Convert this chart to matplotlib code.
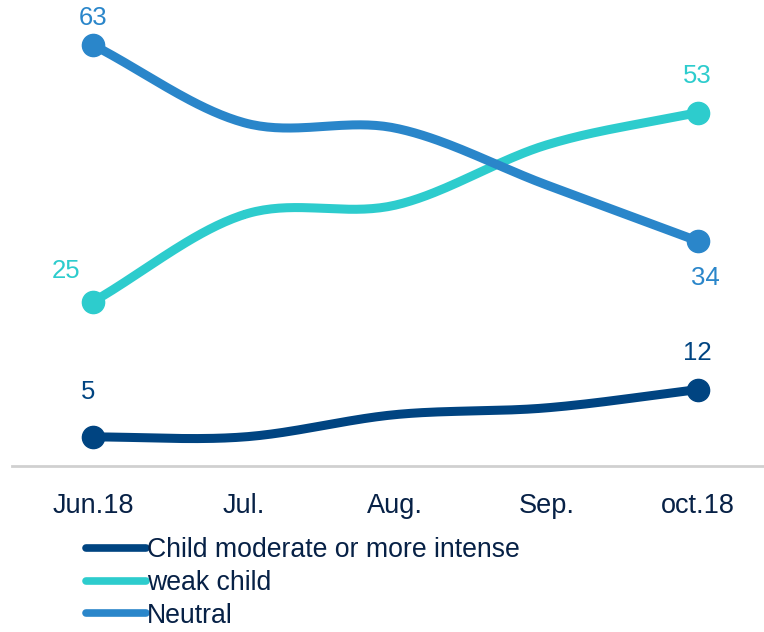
import numpy as np
import matplotlib.pyplot as plt

plt.rcParams['font.family'] = ['Liberation Sans', 'DejaVu Sans']

months = ['Jun.18', 'Jul.', 'Aug.', 'Sep.', 'oct.18']
moderate = [5, 5, 8.3, 9.3, 12]
weak = [25, 37.9, 39.3, 48.2, 53]
neutral = [63, 51.5, 50.7, 42.3, 34]

labels = ['Child moderate or more intense', 'weak child', 'Neutral']
colors = ['#004481', '#2dcccd', '#2a86ca']
text_color = '#072146'


# curva suave tipo Catmull-Rom entre los puntos
def smooth(xs, ys, n=40):
    xs = np.asarray(xs, float)
    ys = np.asarray(ys, float)
    px = np.concatenate([[2 * xs[0] - xs[1]], xs, [2 * xs[-1] - xs[-2]]])
    py = np.concatenate([[2 * ys[0] - ys[1]], ys, [2 * ys[-1] - ys[-2]]])
    out_x, out_y = [], []
    t = np.linspace(0, 1, n)
    for i in range(1, len(px) - 2):
        for p, out in ((px, out_x), (py, out_y)):
            p0, p1, p2, p3 = p[i - 1], p[i], p[i + 1], p[i + 2]
            out.extend(0.5 * ((2 * p1) + (-p0 + p2) * t
                              + (2 * p0 - 5 * p1 + 4 * p2 - p3) * t ** 2
                              + (-p0 + 3 * p1 - 3 * p2 + p3) * t ** 3))
    return np.array(out_x), np.array(out_y)


fig = plt.figure(figsize=(7.64, 6.32), dpi=100)
ax = fig.add_axes([0.0157, 0.2627, 0.9843, 0.7373])

x = np.arange(len(months))
handles = []
for vals, col in zip([moderate, weak, neutral], colors):
    sx, sy = smooth(x, vals)
    h, = ax.plot(sx, sy, color=col, lw=6.5, solid_capstyle='round')
    ax.plot([x[0], x[-1]], [vals[0], vals[-1]], 'o', color=col, ms=16, zorder=3)
    handles.append(h)

# etiquetas de los extremos
fs_num = 18.5
ax.annotate(f'{moderate[0]}', (x[0], moderate[0]), xytext=(-5, 45), textcoords='offset pixels',
            ha='center', va='center', fontsize=fs_num, color=colors[0])
ax.annotate(f'{moderate[-1]}', (x[-1], moderate[-1]), xytext=(0, 37), textcoords='offset pixels',
            ha='center', va='center', fontsize=fs_num, color=colors[0])
ax.annotate(f'{weak[0]}', (x[0], weak[0]), xytext=(-27, 31), textcoords='offset pixels',
            ha='center', va='center', fontsize=fs_num, color=colors[1])
ax.annotate(f'{weak[-1]}', (x[-1], weak[-1]), xytext=(0, 37), textcoords='offset pixels',
            ha='center', va='center', fontsize=fs_num, color=colors[1])
ax.annotate(f'{neutral[0]}', (x[0], neutral[0]), xytext=(0, 27), textcoords='offset pixels',
            ha='center', va='center', fontsize=fs_num, color=colors[2])
ax.annotate(f'{neutral[-1]}', (x[-1], neutral[-1]), xytext=(8, -37), textcoords='offset pixels',
            ha='center', va='center', fontsize=fs_num, color=colors[2])

ax.set_xlim(-0.536, 4.44)
ax.set_ylim(0.7, 69.66)
ax.set_xticks(x)
ax.set_xticklabels(months, fontsize=19.5, color=text_color)
ax.set_yticks([])
ax.tick_params(axis='x', length=0, pad=19.5)
for s in ['top', 'right', 'left']:
    ax.spines[s].set_visible(False)
ax.spines['bottom'].set_color('#d0d0d0')
ax.spines['bottom'].set_linewidth(2)

leg = fig.legend(handles, labels, loc='upper left', bbox_to_anchor=(0.112, 0.150),
                 frameon=False, fontsize=19.2, handlelength=2.25, handletextpad=0.05,
                 labelspacing=0.25, borderaxespad=0, borderpad=0)
for t in leg.get_texts():
    t.set_color(text_color)
for l in leg.get_lines():
    l.set_linewidth(5.5)

fig.savefig('out.png', dpi=100)
